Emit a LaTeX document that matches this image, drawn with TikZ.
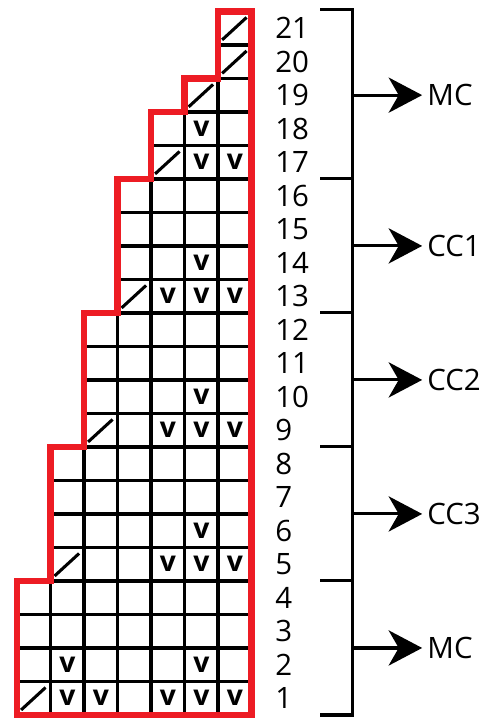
\documentclass[tikz,border=0pt]{standalone}
\usepackage{fontspec}
\setmainfont{Open Sans}
\usetikzlibrary{arrows.meta}
\definecolor{chartred}{RGB}{237,28,36}

\begin{document}
\begin{tikzpicture}[
    rownum/.style={anchor=west, inner sep=0pt, font=\fontsize{25}{30}\selectfont},
    yarn/.style={anchor=west, inner sep=0.15cm, font=\fontsize{25}{30}\selectfont},
    stitchmark/.style={inner sep=0pt, font=\fontsize{24}{28}\selectfont\bfseries},
    slipline/.style={line width=2.6pt},
    bracket/.style={line width=2.6pt, line join=miter},
    pointer/.style={line width=2.6pt, -{Stealth[length=1cm, width=1.05cm, inset=0.3cm]}}
  ]
\useasboundingbox (-0.51,-0.12) rectangle (14.09,21.34);

% grid of the chart, cut to the staircase
\begin{scope}
  \clip (0,0) -- (7,0) -- (7,21) -- (6,21) -- (6,19) -- (5,19) -- (5,18) -- (4,18)
    -- (4,16) -- (3,16) -- (3,12) -- (2,12) -- (2,8) -- (1,8) -- (1,4) -- (0,4) -- cycle;
  \draw[line width=3pt, step=1] (0,0) grid (7,21);
\end{scope}

% stitches
\foreach \c/\r in {0/1, 1/5, 2/9, 3/13, 4/17, 5/19, 6/20, 6/21}
  \draw[slipline] ({\c+0.12},{\r-0.85}) -- ({\c+0.85},{\r-0.18});
\foreach \c/\r in {1/1, 2/1, 4/1, 5/1, 6/1, 1/2, 5/2, 4/5, 5/5, 6/5, 5/6,
                   4/9, 5/9, 6/9, 5/10, 4/13, 5/13, 6/13, 5/14, 5/17, 6/17, 5/18}
  \node[stitchmark] (v\c-\r) at ({\c+0.5},{\r-0.5}) {v};

% outline
\draw[chartred, line width=5.5pt, line join=miter]
  (0,0) -- (7,0) -- (7,21) -- (6,21) -- (6,19) -- (5,19) -- (5,18) -- (4,18)
  -- (4,16) -- (3,16) -- (3,12) -- (2,12) -- (2,8) -- (1,8) -- (1,4) -- (0,4) -- cycle;

% row numbers
\foreach \r in {1,...,21}
  \node[rownum] (n\r) at (7.7,{\r-0.5}) {\r};

% bracket
\draw[bracket] (9.05,21.07) -| (10,0) -- (9.05,0);
\foreach \y in {4,8,12,16}
  \draw[bracket] (9.05,\y) -- (10,\y);

\coordinate (mctop) at (10,18.5);
\coordinate (ccone) at (10,14);
\coordinate (cctwo) at (10,10);
\coordinate (ccthree) at (10,6);
\coordinate (mcbot) at (10,2);

\node[yarn] (lmctop) at (12.09,18.5) {MC};
\node[yarn] (lccone) at (12.09,14) {CC1};
\node[yarn] (lcctwo) at (12.09,10) {CC2};
\node[yarn] (lccthree) at (12.09,6) {CC3};
\node[yarn] (lmcbot) at (12.09,2) {MC};

\draw[pointer] (mctop) -- (lmctop.west);
\draw[pointer] (ccone) -- (lccone.west);
\draw[pointer] (cctwo) -- (lcctwo.west);
\draw[pointer] (ccthree) -- (lccthree.west);
\draw[pointer] (mcbot) -- (lmcbot.west);
\end{tikzpicture}
\end{document}
